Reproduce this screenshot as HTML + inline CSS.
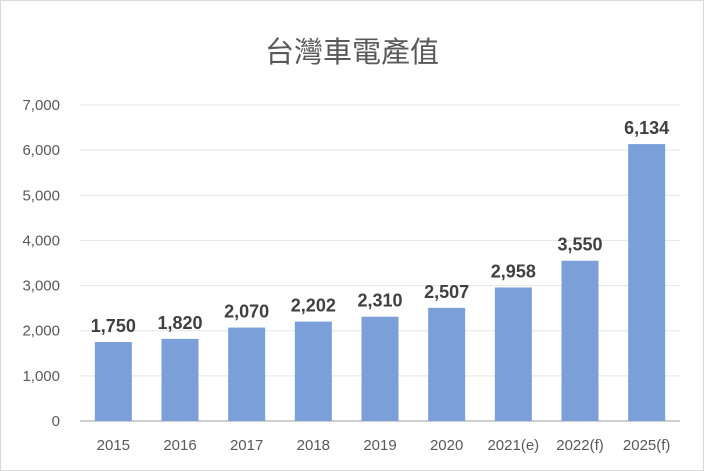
<!DOCTYPE html>
<html><head><meta charset="utf-8"><style>
body{margin:0;background:#fff}
svg{display:block;font-family:"Liberation Sans","Noto Sans CJK TC",sans-serif}
</style></head><body>
<svg id="chart" width="704" height="471" viewBox="0 0 704 471" xmlns="http://www.w3.org/2000/svg">
<rect x="0.5" y="0.5" width="703" height="470" fill="#fff" stroke="#d9d9d9"/>
<text x="352" y="62" text-anchor="middle" font-size="29" fill="#595959" font-family="'Liberation Sans','Noto Sans CJK TC',sans-serif">台灣車電產值</text>
<g id="grid"></g><g id="bars"></g><g id="labels"></g>
</svg>
<script>
const categories=["2015","2016","2017","2018","2019","2020","2021(e)","2022(f)","2025(f)"];
const values=[1750,1820,2070,2202,2310,2507,2958,3550,6134];
const yTicks=[0,1000,2000,3000,4000,5000,6000,7000];
const yTickLabels=["0","1,000","2,000","3,000","4,000","5,000","6,000","7,000"];
const valueLabels=["1,750","1,820","2,070","2,202","2,310","2,507","2,958","3,550","6,134"];
const NS="http://www.w3.org/2000/svg";
const L=80,R=680,Y0=421,Ytop=105,ymax=7000;
const y=v=>Y0-(v/ymax)*(Y0-Ytop);
const band=(R-L)/categories.length;
const x=i=>L+band*(i+0.5);
const bw=37;
function mk(t,a,p){const e=document.createElementNS(NS,t);for(const k in a)e.setAttribute(k,a[k]);p.appendChild(e);return e;}
const grid=document.getElementById('grid'),bars=document.getElementById('bars'),labels=document.getElementById('labels');
yTicks.forEach((t,i)=>{
  if(t>0){const g=mk('line',{x1:L,x2:R,y1:y(t),y2:y(t),stroke:'#e5e5e5','stroke-width':1},grid);
  
  }
  const tx=mk('text',{x:60,y:y(t)+5,'text-anchor':'end','font-size':15,fill:'#595959'},grid);
  tx.textContent=yTickLabels[i];
  
  
});
const ax=mk('line',{x1:L,x2:R,y1:Y0,y2:Y0,stroke:'#bfbfbf','stroke-width':1.5},grid);


categories.forEach((c,i)=>{
  const b=mk('rect',{x:x(i)-bw/2,y:y(values[i]),width:bw,height:Y0-y(values[i]),fill:'#7b9fd8'},bars);
  
  
  const t=mk('text',{x:x(i),y:y(values[i])-10,'text-anchor':'middle','font-size':18,'font-weight':'bold',fill:'#404040'},labels);
  t.textContent=valueLabels[i];
  
  
  const xl=mk('text',{x:x(i),y:450,'text-anchor':'middle','font-size':15,fill:'#595959'},labels);
  xl.textContent=c;
  
  
});
</script>
</body></html>
